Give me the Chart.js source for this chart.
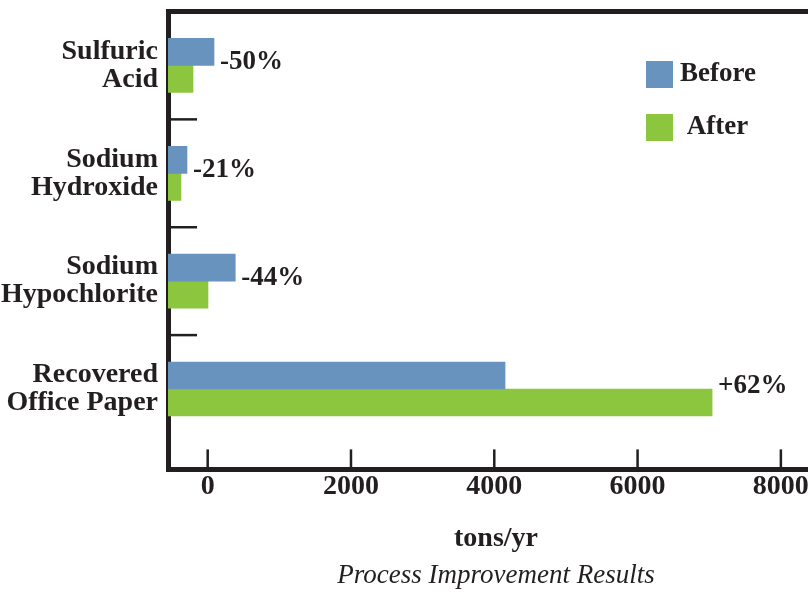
<!DOCTYPE html>
<html>
<head>
<meta charset="utf-8">
<script src="https://cdn.jsdelivr.net/npm/chart.js@4/dist/chart.umd.min.js"></script>
<style>
  html, body { margin: 0; padding: 0; background: #ffffff; overflow: hidden; }
  canvas { display: block; }
</style>
</head>
<body>
<canvas id="chart" width="824" height="594"></canvas>
<script>
// Chemical usage per process step, tons/yr
const CATEGORIES = [
  ['Sulfuric', 'Acid'],
  ['Sodium', 'Hydroxide'],
  ['Sodium', 'Hypochlorite'],
  ['Recovered', 'Office Paper']
];
const BEFORE = [88, -289, 385, 4150];
const AFTER = [-205, -373, 4, 7040];
const CHANGE_LABELS = ['-50%', '-21%', '-44%', '+62%'];
const SERIES_NAMES = ['Before', ' After'];
const X_TICKS = [0, 2000, 4000, 6000, 8000];
const X_MIN = -554;
const X_MAX = 8602;

const INK = '#231f20';
const BLUE = '#6993bf';
const GREEN = '#8cc63f';
const SERIF = "'Liberation Serif', 'Times New Roman', serif";

const toPoints = (vals) => vals.map((v, i) => ({ x: v, y: i }));

// Short inward tick marks, category separators, change labels and legend
const decorations = {
  id: 'decorations',
  afterDraw(chart) {
    const { ctx, chartArea, scales } = chart;
    const xs = scales.x, ys = scales.y;
    ctx.save();
    ctx.strokeStyle = INK;
    ctx.lineWidth = 2.5;

    // x ticks pointing up into the plot
    xs.ticks.forEach(t => {
      const px = xs.getPixelForValue(t.value);
      ctx.beginPath();
      ctx.moveTo(px, chartArea.bottom);
      ctx.lineTo(px, chartArea.bottom - 20);
      ctx.stroke();
    });

    // separators between categories
    for (let i = 0; i < CATEGORIES.length - 1; i++) {
      const py = ys.getPixelForValue(i + 0.5);
      ctx.beginPath();
      ctx.moveTo(chartArea.left, py);
      ctx.lineTo(chartArea.left + 29, py);
      ctx.stroke();
    }

    // percentage change beside each pair of bars
    ctx.fillStyle = INK;
    ctx.font = `bold 27px ${SERIF}`;
    ctx.textAlign = 'left';
    ctx.textBaseline = 'middle';
    CHANGE_LABELS.forEach((txt, i) => {
      const end = Math.max(BEFORE[i], AFTER[i]);
      const px = xs.getPixelForValue(end) + 6;
      const py = ys.getPixelForValue(i) - 3;
      ctx.fillText(txt, px, py);
    });

    // legend inside the plot, top right
    const lx = chartArea.right - 178;
    const ly = chartArea.top + 49.5;
    chart.data.datasets.forEach((ds, k) => {
      const top = ly + k * 53;
      ctx.fillStyle = ds.backgroundColor;
      ctx.fillRect(lx, top, 27, 27);
      ctx.fillStyle = INK;
      ctx.font = `bold 27px ${SERIF}`;
      ctx.fillText(ds.label, lx + 34, top + 13.5);
    });
    ctx.restore();
  }
};

new Chart(document.getElementById('chart'), {
  type: 'bar',
  data: {
    datasets: [
      { label: SERIES_NAMES[0], data: toPoints(BEFORE), backgroundColor: BLUE, base: X_MIN },
      { label: SERIES_NAMES[1], data: toPoints(AFTER), backgroundColor: GREEN, base: X_MIN }
    ]
  },
  options: {
    indexAxis: 'y',
    responsive: false,
    animation: false,
    events: [],
    barThickness: 27,
    layout: { padding: { top: 11.5, left: 0, right: 0, bottom: 0 } },
    scales: {
      x: {
        type: 'linear',
        position: 'bottom',
        min: X_MIN,
        max: X_MAX,
        offset: false,
        z: 1,
        afterBuildTicks: (s) => { s.ticks = X_TICKS.map(v => ({ value: v })); },
        afterFit: (s) => { s.paddingLeft = 0; s.paddingRight = 0; },
        grid: { display: false, drawTicks: false },
        border: { display: true, width: 5, color: INK },
        ticks: {
          padding: 1,
          color: INK,
          font: { family: SERIF, size: 28, weight: 'bold' },
          maxRotation: 0,
          callback: (v) => String(v)
        },
        title: {
          display: true,
          text: 'tons/yr',
          color: INK,
          font: { family: SERIF, size: 28, weight: 'bold' },
          padding: { top: 17, bottom: 4 }
        }
      },
      xTop: {
        type: 'linear',
        position: 'top',
        min: X_MIN,
        max: X_MAX,
        offset: false,
        z: 1,
        grid: { display: false, drawTicks: false },
        border: { display: true, width: 5, color: INK },
        ticks: { display: false }
      },
      y: {
        type: 'linear',
        position: 'left',
        reverse: true,
        offset: false,
        min: -0.5,
        max: 3.745,
        z: 1,
        afterBuildTicks: (s) => { s.ticks = CATEGORIES.map((_, i) => ({ value: i })); },
        afterFit: (s) => { s.width = 168; s.paddingTop = 0; s.paddingBottom = 0; },
        grid: { display: false, drawTicks: false, offset: false },
        border: { display: true, width: 5, color: INK },
        ticks: {
          padding: 10,
          color: INK,
          font: { family: SERIF, size: 28, weight: 'bold', lineHeight: 1.0 },
          callback: (v) => CATEGORIES[v]
        }
      }
    },
    plugins: {
      legend: { display: false },
      tooltip: { enabled: false },
      title: {
        display: true,
        position: 'bottom',
        fullSize: false,
        text: 'Process Improvement Results',
        color: INK,
        font: { family: SERIF, size: 27, style: 'italic', weight: 'normal' },
        padding: { top: 0, bottom: 2 }
      }
    }
  },
  plugins: [decorations]
});
</script>
</body>
</html>
